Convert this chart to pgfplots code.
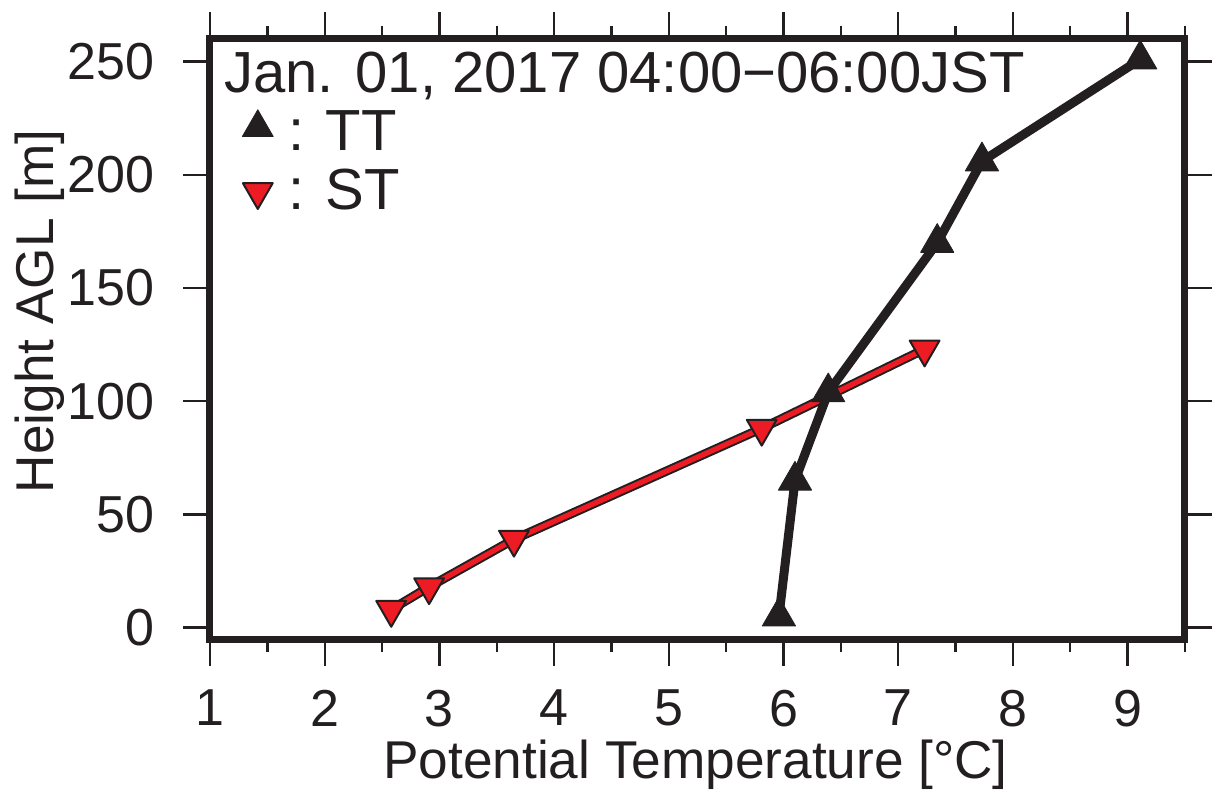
\documentclass[border=0pt]{standalone}
\usepackage{pgfplots}
\pgfplotsset{compat=1.18}
\usepackage{pgfplotstable}
\usepackage{fontspec}
\setmainfont{Liberation Sans}
\definecolor{gblack}{HTML}{231F20}
\definecolor{gred}{HTML}{ED1C24}
\pgfplotstableread{
x y
5.96 5
6.10 65
6.39 104
7.34 170
7.73 206
9.11 251
}\TTdata
\pgfplotstableread{
x y
2.58 8
2.91 18
3.65 39
5.81 88
7.23 123
}\STdata
\begin{document}
\begin{tikzpicture}
\begin{axis}[
  scale only axis, width=487.5pt, height=300pt,
  xmin=1, xmax=9.5, ymin=-5, ymax=260,
  xtick={1,2,...,9}, minor xtick={1.5,2.5,...,9.5}, ytick={0,50,...,250},
  tick align=outside, tick pos=both, xticklabel pos=lower, yticklabel pos=left,
  major tick length=13.3pt, minor tick length=6.7pt,
  tick style={gblack, line width=1.2pt},
  axis line style={gblack, line width=3.5pt, line cap=rect},
  axis on top, clip=false,
  tick label style={font=\fontsize{26}{26}\selectfont, text=gblack},
  /pgf/number format/assume math mode=true,
  xticklabel style={anchor=north, inner sep=0pt, yshift=-12pt},
  yticklabel style={anchor=east, inner sep=0pt, xshift=-14.2pt},
  label style={font=\fontsize{26.6}{26.6}\selectfont, text=gblack, inner sep=0pt},
  xlabel={Potential Temperature [°C]},
  ylabel={Height AGL [m]},
  xlabel style={at={(axis description cs:0.498,-0.2323)}, anchor=base},
  ylabel style={at={(axis description cs:-0.161,0.546)}, anchor=base},
  legend style={at={(rel axis cs:0.0328,0.8827)}, anchor=north west, draw=none, fill=none,
    inner sep=0pt, row sep=8pt, font=\fontsize{29}{29}\selectfont, text=gblack,
    nodes={inner sep=0pt}, /tikz/every odd column/.append style={column sep=7.5pt}},
  legend cell align=left,
  reverse legend=true,
]
\addplot[draw=gblack, line width=4.6pt, line join=round, forget plot] table[x=x,y=y] {\STdata};
\addplot[draw=gred, line width=2.6pt, line join=round,
  mark=triangle*, mark size=8.6pt,
  mark options={rotate=180, fill=gred, draw=gblack, line width=1pt},
  legend image code/.code={\draw[mark=triangle*, mark size=8.6pt, mark options={rotate=180, fill=gred, draw=gblack, line width=1pt}] plot coordinates {(8pt,-0.5pt)};}]
  table[x=x,y=y] {\STdata};
\addlegendentry{: ST}
\addplot[draw=gblack, line width=4.5pt, line join=round,
  mark=triangle*, mark size=9.6pt,
  mark options={fill=gblack, draw=gblack, line width=0.4pt},
  legend image code/.code={\draw[mark=triangle*, mark size=8.9pt, mark options={fill=gblack, draw=gblack, line width=0.4pt}] plot coordinates {(8pt,2pt)};}]
  table[x=x,y=y] {\TTdata};
\addlegendentry{: TT}
\node[anchor=base west, inner sep=0pt, font=\fontsize{29}{29}\selectfont, text=gblack]
  at (rel axis cs:0.0144,0.9115) {Jan. 01, 2017 04:00−06:00JST};
\end{axis}
\pgfresetboundingbox
\useasboundingbox (-105pt,-77.2pt) rectangle (503pt,319.5pt);
\end{tikzpicture}
\end{document}
